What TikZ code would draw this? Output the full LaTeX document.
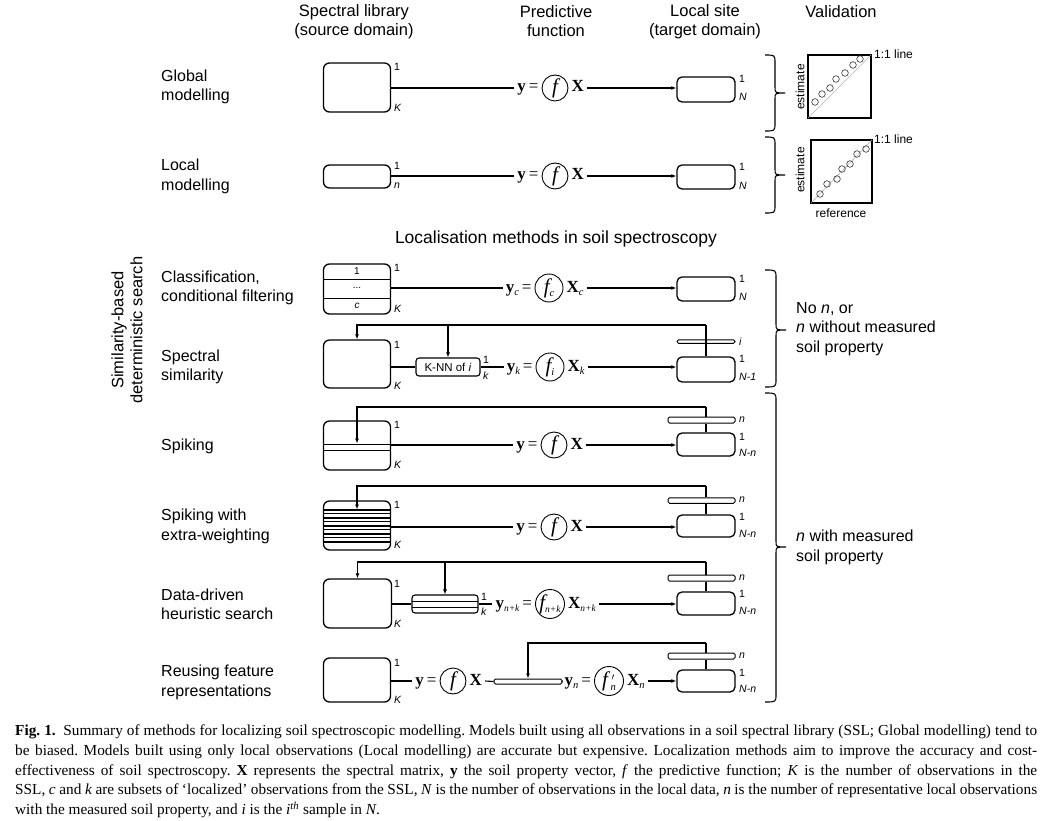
\documentclass[tikz,border=0pt]{standalone}
\usepackage{fontspec}
\setmainfont{Liberation Serif}
\newfontfamily\sans{Liberation Sans}
\usetikzlibrary{arrows.meta,calc}
\newcommand\myfs[2]{\fontsize{#1}{#2}\selectfont}
\newcommand\sub[1]{\raisebox{-3.5pt}{\myfs{10.5}{10.5}\itshape #1}}
\newcommand\subs[1]{\raisebox{-3.5pt}{\myfs{9.5}{9.5}\itshape #1}}
\newcommand\formula[6]{%
  \node[fcirc, minimum size=#6pt] (#1) at #2 {#4};
  \node[ftext, anchor=east] (#1l) at (#1.west) {#3};
  \node[ftext, anchor=west] (#1r) at (#1.east) {#5};}
\tikzset{
  ssl/.style={draw, line width=1.3pt, rounded corners=6pt, minimum width=67pt, inner sep=0pt},
  tgt/.style={draw, line width=1.3pt, rounded corners=5pt, minimum width=58pt, inner sep=0pt},
  bar/.style={draw, line width=1pt, rounded corners=1.5pt, inner sep=0pt, fill=white},
  conn/.style={line width=1.1pt},
  arr/.style={conn, -{Latex[length=5pt,width=4pt]}},
  lab/.style={font=\sans\myfs{10.5}{12}, inner sep=0pt, anchor=west},
  rowlab/.style={font=\sans\myfs{16}{19.5}, inner sep=0pt, anchor=west, align=left},
  head/.style={font=\sans\myfs{16.5}{19}, inner sep=0pt, align=center},
  fcirc/.style={draw, circle, line width=0.9pt, inner sep=0pt, font=\myfs{21}{22}\itshape},
  ftext/.style={inner ysep=1pt, inner xsep=3pt, font=\myfs{17}{18}, text height=11pt, text depth=3pt},
  brace/.style={line width=1.1pt},
  small/.style={font=\sans\myfs{12}{14}, inner sep=0pt},
  stripebox/.style={draw, line width=1.1pt, rounded corners=3pt, inner sep=0pt},
}
\begin{document}
\begin{tikzpicture}[x=1pt,y=-1pt]
\useasboundingbox (0,0) rectangle (1055,821);

% headers
\node[head] (h1) at (354,21.5) {Spectral library\\(source domain)};
\node[head] (h2) at (556,21.5) {Predictive\\function};
\node[head] (h3) at (705,21.5) {Local site\\(target domain)};
\node[head] (h4) at (841,12) {Validation};

% row labels
\node[rowlab] (r1) at (161,87) {Global\\modelling};
\node[rowlab] (r2) at (161,176.5) {Local\\modelling};
\node[rowlab] (r3) at (161,288) {Classification,\\conditional filtering};
\node[rowlab] (r4) at (161,367) {Spectral\\similarity};
\node[rowlab] (r5) at (161,446) {Spiking};
\node[rowlab] (r6) at (161,526.5) {Spiking with\\extra-weighting};
\node[rowlab] (r7) at (161,604.5) {Data-driven\\heuristic search};
\node[rowlab] (r8) at (161,682.5) {Reusing feature\\representations};

\node[head, rotate=90] (sim) at (127,330) {Similarity-based\\deterministic search};
\node[font=\sans\myfs{17.5}{19}, inner sep=0pt] (loc) at (556,239) {Localisation methods in soil spectroscopy};

% ---------- Row 1: global
\node[ssl, minimum height=49pt] (s1) at (357,87.5) {};
\node[tgt, minimum height=25pt] (t1) at (706,89.5) {};
\formula{f1}{(555,88)}{\textbf{y}\,=}{f}{\textbf{X}}{26}
\draw[conn] (s1.east |- f1l.west) -- (f1l.west);
\draw[arr] (f1r.east) -- (f1r.east -| t1.west);
\node[lab] (s1a) at (394,67) {1};
\node[lab] (s1b) at (394,108) {\itshape K};
\node[lab] (t1a) at (739,79) {1};
\node[lab] (t1b) at (739,97) {\itshape N};

% ---------- Row 2: local
\node[ssl, minimum height=23pt] (s2) at (357,176.5) {};
\node[tgt, minimum height=24pt] (t2) at (706,177) {};
\formula{f2}{(555,176)}{\textbf{y}\,=}{f}{\textbf{X}}{26}
\draw[conn] (s2.east |- f2l.west) -- (f2l.west);
\draw[arr] (f2r.east) -- (f2r.east -| t2.west);
\node[lab] (s2a) at (394,166) {1};
\node[lab] (s2b) at (394,186) {\itshape n};
\node[lab] (t2a) at (739,167) {1};
\node[lab] (t2b) at (739,186) {\itshape N};

% ---------- validation
\draw[brace] (765,55) .. controls (775,55) .. (775,63) -- (775,87) .. controls (775,93) .. (785,93) .. controls (775,93) .. (775,99) -- (775,123) .. controls (775,131) .. (765,131);
\draw[brace] (765,137) .. controls (775,137) .. (775,145) -- (775,169) .. controls (775,175) .. (785,175) .. controls (775,175) .. (775,181) -- (775,205) .. controls (775,213) .. (765,213);
\draw[line width=1.3pt] (808,55) rectangle (871,118);
\draw[gray!60, line width=0.6pt] (808,118) -- (871,55);
\foreach \p in {(815,102),(822,94),(830,88),(836,79),(845,73),(853,65),(860,59)}
  \draw[gray!40!black, line width=0.6pt] \p circle (3.3pt);
\draw[line width=1.3pt] (811,140) rectangle (872,203);
\draw[gray!60, line width=0.6pt] (811,203) -- (872,140);
\foreach \p in {(820,194),(827,184),(837,179),(842,169),(850,164),(857,154),(866,149)}
  \draw[gray!40!black, line width=0.6pt] \p circle (3.3pt);
\node[small, anchor=west] (l11a) at (874,54) {1:1 line};
\node[small, anchor=west] (l11b) at (874,139) {1:1 line};
\node[small, rotate=90] (est1) at (800,87) {estimate};
\node[small, rotate=90] (est2) at (800,170) {estimate};
\node[small] (ref) at (841,213) {reference};

% ---------- Row 3: classification
\node[ssl, minimum height=50pt] (s3) at (357,289) {};
\draw[line width=1pt] (323.5,279) -- (390.5,279);
\draw[line width=1pt] (323.5,298) -- (390.5,298);
\node[font=\sans\myfs{10}{12}, inner sep=0pt] (c1) at (357,271) {1};
\node[font=\sans\myfs{10}{12}, inner sep=0pt] (c2) at (357,288) {...};
\node[font=\sans\myfs{10}{12}, inner sep=0pt] (c3) at (357,306) {\itshape c};
\node[tgt, minimum height=24pt] (t3) at (706,289) {};
\formula{f3}{(549,288)}{\textbf{y}\sub{c}\,=}{f\sub{c}}{\textbf{X}\sub{c}}{28}
\draw[conn] (s3.east |- f3l.west) -- (f3l.west);
\draw[arr] (f3r.east) -- (f3r.east -| t3.west);
\node[lab] (s3a) at (394,268) {1};
\node[lab] (s3b) at (394,309) {\itshape K};
\node[lab] (t3a) at (739,279) {1};
\node[lab] (t3b) at (739,297) {\itshape N};

% ---------- Row 4: spectral similarity
\node[ssl, minimum height=48pt] (s4) at (357,364) {};
\node[tgt, minimum height=25pt] (t4) at (706,369.5) {};
\node[draw, line width=1pt, rounded corners=1.5pt, inner sep=0pt, minimum width=58pt, minimum height=3.5pt] (b4) at (706,341.5) {};
\node[stripebox, minimum width=64pt, minimum height=18pt, font=\sans\myfs{11.5}{12}] (knn) at (448,367) {K-NN of \textit{i}};
\formula{f4}{(550,367)}{\textbf{y}\sub{k}\,=}{f\sub{i}}{\textbf{X}\sub{k}}{28}
\coordinate (top4) at (706,325);
\draw[conn] (t4.north) -- (top4);
\draw[arr] (top4) -| (s4.north);
\draw[arr] (top4 -| knn.north) -- (knn.north);
\draw[conn] (s4.east |- knn.west) -- (knn.west);
\draw[conn] (knn.east) -- (f4l.west);
\draw[arr] (f4r.east) -- (f4r.east -| t4.west);
\node[lab] (s4a) at (394,345) {1};
\node[lab] (s4b) at (394,386) {\itshape K};
\node[lab] (k4a) at (483,360) {1};
\node[lab] (k4b) at (483,376) {\itshape k};
\node[lab] (t4i) at (739,342) {\itshape i};
\node[lab] (t4a) at (739,359) {1};
\node[lab] (t4b) at (739,377) {\itshape N-1};

% ---------- Row 5: spiking
\node[ssl, minimum height=49pt] (s5) at (357,445.5) {};
\node[draw, line width=1pt, minimum width=67pt, minimum height=6pt, inner sep=0pt] (band5) at (357,447) {};
\node[tgt, minimum height=23pt] (t5) at (706,444.5) {};
\node[bar, minimum width=67pt, minimum height=6pt] (b5) at (701.5,420) {};
\formula{f5}{(554,445)}{\textbf{y}\,=}{f}{\textbf{X}}{26}
\coordinate (top5) at (706,407);
\draw[conn] (t5.north) -- (t5.north |- b5.south);
\draw[conn] (t5.north |- b5.north) -- (top5);
\draw[arr] (top5) -| (band5.north);
\draw[conn] (s5.east |- f5l.west) -- (f5l.west);
\draw[arr] (f5r.east) -- (f5r.east -| t5.west);
\node[lab] (s5a) at (394,425) {1};
\node[lab] (s5b) at (394,465) {\itshape K};
\node[lab] (t5n) at (739,420) {\itshape n};
\node[lab] (t5a) at (739,437) {1};
\node[lab] (t5b) at (739,453) {\itshape N-n};

% ---------- Row 6: spiking with extra weighting
\node[ssl, minimum height=49pt] (s6) at (357,525.5) {};
\foreach \yy in {510,513.5,518,521.5,526,529.5,534,537.5,542}
  \draw[line width=1.1pt] (323.5,\yy) -- (390.5,\yy);
\coordinate (s6in) at (357,509.5);
\node[tgt, minimum height=22pt] (t6) at (706,526) {};
\node[bar, minimum width=67pt, minimum height=5.5pt] (b6) at (701.5,500.5) {};
\formula{f6}{(554,527)}{\textbf{y}\,=}{f}{\textbf{X}}{26}
\coordinate (top6) at (706,486);
\draw[conn] (t6.north) -- (t6.north |- b6.south);
\draw[conn] (t6.north |- b6.north) -- (top6);
\draw[arr] (top6) -| (s6in);
\draw[conn] (s6.east |- f6l.west) -- (f6l.west);
\draw[arr] (f6r.east) -- (f6r.east -| t6.west);
\node[lab] (s6a) at (394,505) {1};
\node[lab] (s6b) at (394,545) {\itshape K};
\node[lab] (t6n) at (739,500) {\itshape n};
\node[lab] (t6a) at (739,517) {1};
\node[lab] (t6b) at (739,534) {\itshape N-n};

% ---------- Row 7: data-driven heuristic search
\node[ssl, minimum width=68pt, minimum height=49pt] (s7) at (357.5,603.5) {};
\node[stripebox, minimum width=66pt, minimum height=18pt] (k7) at (445,604) {};
\draw[line width=1pt] (412,601) -- (478,601);
\draw[line width=1pt] (412,607) -- (478,607);
\node[tgt, minimum height=23pt] (t7) at (706,603.5) {};
\node[bar, minimum width=67pt, minimum height=6pt] (b7) at (701.5,578) {};
\formula{f7}{(550,604)}{\textbf{y}\subs{n+k}\,=}{f\subs{n+k}}{\textbf{X}\subs{n+k}}{29}
\coordinate (top7) at (706,562);
\draw[conn] (t7.north) -- (t7.north |- b7.south);
\draw[conn] (t7.north |- b7.north) -- (top7);
\draw[arr] (top7) -| (s7.north);
\draw[arr] (top7 -| k7.north) -- (k7.north);
\draw[conn] (s7.east |- k7.west) -- (k7.west);
\draw[conn] (k7.east) -- (f7l.west);
\draw[arr] (f7r.east) -- (f7r.east -| t7.west);
\node[lab] (s7a) at (394,584) {1};
\node[lab] (s7b) at (394,624) {\itshape K};
\node[lab] (k7a) at (481,597) {1};
\node[lab] (k7b) at (481,612) {\itshape k};
\node[lab] (t7n) at (739,578) {\itshape n};
\node[lab] (t7a) at (739,594) {1};
\node[lab] (t7b) at (739,611) {\itshape N-n};

% ---------- Row 8: reusing feature representations
\node[ssl, minimum height=44pt] (s8) at (357,680) {};
\formula{f8a}{(453,681)}{\textbf{y}\,=}{f}{\textbf{X}}{26}
\node[bar, minimum width=68pt, minimum height=5pt] (rb) at (528,681.5) {};
\formula{f8b}{(609,681)}{\textbf{y}\sub{n}\,=}{f\rlap{\kern3.5pt\raisebox{6pt}{\myfs{10}{10}$\prime$}}\kern2.5pt\raisebox{-4pt}{\myfs{10.5}{10.5}\itshape n}}{\textbf{X}\sub{n}}{29}
\node[tgt, minimum height=22pt] (t8) at (706,681) {};
\node[bar, minimum width=67pt, minimum height=6pt] (b8) at (701.5,656) {};
\coordinate (top8) at (706,643);
\draw[conn] (s8.east |- f8al.west) -- (f8al.west);
\draw[conn] (f8ar.east) -- (rb.west);
\draw[conn] (rb.east) -- (f8bl.west);
\draw[arr] (f8br.east) -- (f8br.east -| t8.west);
\draw[conn] (t8.north) -- (t8.north |- b8.south);
\draw[conn] (t8.north |- b8.north) -- (top8);
\draw[arr] (top8) -| (rb.north);
\node[lab] (s8a) at (394,663) {1};
\node[lab] (s8b) at (394,700) {\itshape K};
\node[lab] (t8n) at (739,656) {\itshape n};
\node[lab] (t8a) at (739,673) {1};
\node[lab] (t8b) at (739,689) {\itshape N-n};

% ---------- right braces
\draw[brace] (765,270) .. controls (776,270) .. (776,278) -- (776,324) .. controls (776,330) .. (786,330) .. controls (776,330) .. (776,336) -- (776,379) .. controls (776,387) .. (765,387);
\draw[brace] (765,393) .. controls (776,393) .. (776,401) -- (776,541) .. controls (776,547) .. (786,547) .. controls (776,547) .. (776,553) -- (776,694) .. controls (776,702) .. (765,702);
\node[rowlab] (nA) at (796,329) {No \textit{n}, or\\\textit{n} without measured\\soil property};
\node[rowlab] (nB) at (796,547.5) {\textit{n} with measured\\soil property};

% ---------- caption
\node[anchor=north west, inner sep=0pt, text width=1022pt, align=justify, font=\myfs{15.3}{19.6}] (cap) at (15,725) {\frenchspacing\tolerance=10000\hyphenpenalty=10000%
\textbf{Fig. 1.}\enspace Summary of methods for localizing soil spectroscopic modelling. Models built using all observations in a soil spectral library (SSL; Global modelling) tend to\linebreak
be biased. Models built using only local observations (Local modelling) are accurate but expensive. Localization methods aim to improve the accuracy and cost-\linebreak
effectiveness of soil spectroscopy. \textbf{X} represents the spectral matrix, \textbf{y} the soil property vector, \textit{f} the predictive function; \textit{K} is the number of observations in the\linebreak
SSL, \textit{c} and \textit{k} are subsets of ‘localized’ observations from the SSL, \textit{N} is the number of observations in the local data, \textit{n} is the number of representative local observations\linebreak
with the measured soil property, and \textit{i} is the \textit{i}\textsuperscript{\textit{th}} sample in \textit{N}.};
\end{tikzpicture}
\end{document}
